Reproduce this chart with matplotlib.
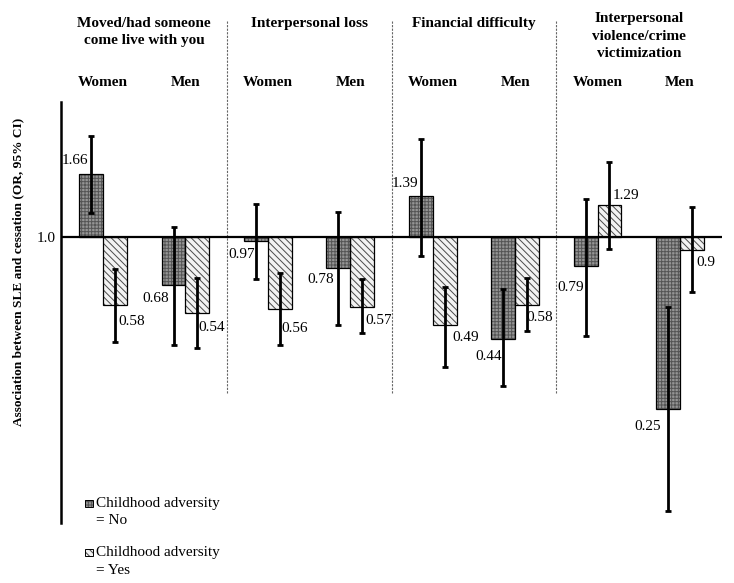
import numpy as np
import matplotlib
matplotlib.use("Agg")
import matplotlib.pyplot as plt
from matplotlib.patches import Rectangle
from matplotlib.transforms import blended_transform_factory

plt.rcParams['font.family'] = ['Liberation Serif', 'DejaVu Serif']
plt.rcParams['hatch.linewidth'] = 0.7

# ---- data ----
categories = ["Moved/had someone\ncome live with you", "Interpersonal loss",
              "Financial difficulty", "Interpersonal\nviolence/crime\nvictimization"]
sexes = ["Women", "Men"]
series_labels = ["Childhood adversity\n= No", "Childhood adversity\n= Yes"]
or_no = [1.66, 0.68, 0.97, 0.78, 1.39, 0.44, 0.79, 0.25]
or_yes = [0.58, 0.54, 0.56, 0.57, 0.49, 0.58, 1.29, 0.9]
ci_no_low = [1.21, 0.42, 0.71, 0.49, 0.86, 0.30, 0.45, 0.11]
ci_no_high = [2.26, 1.08, 1.30, 1.22, 2.21, 0.66, 1.36, 0.57]
ci_yes_low = [0.43, 0.41, 0.42, 0.46, 0.35, 0.47, 0.91, 0.64]
ci_yes_high = [0.77, 0.72, 0.75, 0.71, 0.67, 0.72, 1.83, 1.27]
ytick_vals = [1.0]
ytick_labels = ["1.0"]
ylabel = "Association between SLE and cessation (OR, 95% CI)"

# ---- layout / style (pixel offsets for value labels) ----
off_no = [(-16, 14), (-18, -14), (-14.5, -14), (-18, -12), (-15.5, 13), (-14.5, -18), (-14.5, -21), (-20.5, -18)]
off_yes = [(16.5, -16.5), (14.5, -14.6), (15, -20), (16.5, -14), (21, -12.5), (13, -12.5), (16, 10), (14, -12)]
header_y = [32, 23, 23, 36]

W, H = 734, 583
fig = plt.figure(figsize=(W / 100, H / 100), dpi=100)
ax = fig.add_axes([61 / W, 1 - 522.5 / H, (722 - 61) / W, (522.5 - 102) / H])

n = len(or_no)
pos = np.arange(n)
bw = 0.29
xn = pos - bw / 2
xy = pos + bw / 2

dark_face, dark_hatch = '#959595', '#555555'
light_face, light_hatch = '#f2f2f2', '#4a4a4a'

def draw_bars(x, vals, face, hcol, hatch):
    h = np.array(vals) - 1.0
    ax.bar(x, h, bw, bottom=1.0, color=face, edgecolor=hcol, hatch=hatch, linewidth=0, zorder=2)
    ax.bar(x, h, bw, bottom=1.0, fill=False, edgecolor='black', linewidth=0.9, zorder=3)

draw_bars(xn, or_no, dark_face, dark_hatch, '+++++')
draw_bars(xy, or_yes, light_face, light_hatch, '\\\\\\\\\\')

for x, v, lo, hi in [(xn, or_no, ci_no_low, ci_no_high), (xy, or_yes, ci_yes_low, ci_yes_high)]:
    v = np.array(v)
    err = np.vstack([v - np.array(lo), np.array(hi) - v])
    ax.errorbar(x, v, yerr=err, fmt='none', ecolor='black', elinewidth=2, capsize=2.4, capthick=2, zorder=4)

for i in range(n):
    ax.annotate(f"{or_no[i]:g}", (xn[i], or_no[i]), xytext=off_no[i], textcoords='offset pixels',
                ha='center', va='center', fontsize=11)
    ax.annotate(f"{or_yes[i]:g}", (xy[i], or_yes[i]), xytext=off_yes[i], textcoords='offset pixels',
                ha='center', va='center', fontsize=11)

ax.set_yscale('log')
ax.set_ylim(0.1, 2.97)
ax.set_xlim(-0.51, 7.51)
ax.set_yticks(ytick_vals)
ax.set_yticklabels(ytick_labels, fontsize=11)
ax.yaxis.set_minor_locator(matplotlib.ticker.NullLocator())
ax.tick_params(axis='y', length=0, pad=4)
ax.set_xticks([])
for s in ['top', 'right', 'bottom']:
    ax.spines[s].set_visible(False)
ax.spines['left'].set_linewidth(1.8)
ax.axhline(1.0, color='black', linewidth=1.6, zorder=5)
ax.set_ylabel(ylabel, fontsize=9.6, fontweight='bold')
ax.yaxis.set_label_coords((24 - 61) / (722 - 61), (522.5 - 272) / (522.5 - 102))

# separators
trans_dy = blended_transform_factory(ax.transData, fig.transFigure)
for k in range(1, len(categories)):
    sx = 2 * k - 0.5
    ax.plot([sx, sx], [1 - 393 / H, 1 - 20 / H], transform=trans_dy, color='#666666',
            linewidth=0.8, linestyle=(0, (2, 1.2)), clip_on=False)

# headers
for k, cat in enumerate(categories):
    ax.text(2 * k + 0.5, 1 - header_y[k] / H, cat, transform=trans_dy, ha='center', va='center',
            fontsize=11, fontweight='bold', linespacing=1.42)
    for j, s in enumerate(sexes):
        ax.text(2 * k + j, 1 - 83 / H, s, transform=trans_dy, ha='center', va='center',
                fontsize=11, fontweight='bold')

# legend (manual)
leg_y = [504, 553]
styles = [(dark_face, dark_hatch, '+++++'), (light_face, light_hatch, '\\\\\\\\\\')]
for (fc, hc, ht), lab, ly in zip(styles, series_labels, leg_y):
    fig.add_artist(Rectangle((85 / W, 1 - (ly + 3) / H), 7.5 / W, 7.5 / H, transform=fig.transFigure,
                             facecolor=fc, edgecolor=hc, hatch=ht, linewidth=0))
    fig.add_artist(Rectangle((85 / W, 1 - (ly + 3) / H), 7.5 / W, 7.5 / H, transform=fig.transFigure,
                             fill=False, edgecolor='black', linewidth=0.7))
    fig.text(96 / W, 1 - (ly - 7) / H, lab, ha='left', va='top', fontsize=11, linespacing=1.45)

fig.savefig('out.png', dpi=100)
